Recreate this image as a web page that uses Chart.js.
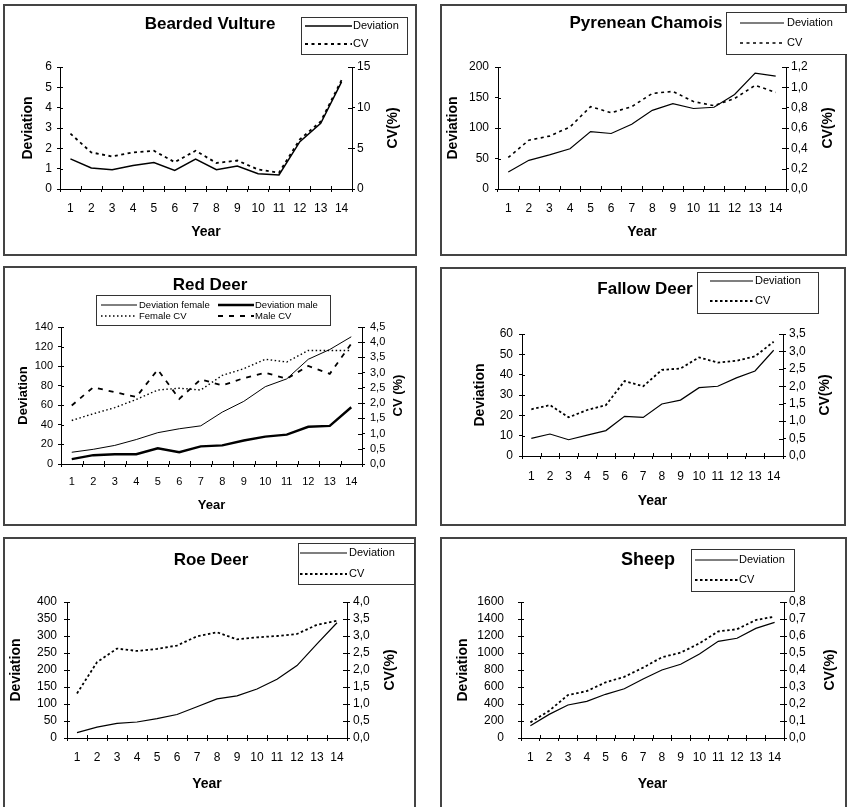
<!DOCTYPE html>
<html>
<head>
<meta charset="utf-8">
<script src="https://cdn.jsdelivr.net/npm/chart.js@4.4.1/dist/chart.umd.min.js"></script>
<style>
  body { margin: 0; background: #fff; width: 847px; height: 807px; overflow: hidden; position: relative; }
  .frame { position: absolute; border: 2px solid #444; box-sizing: border-box; }
  canvas { position: absolute; }
</style>
</head>
<body>
<script>
// ---- data ----
const years = ["1", "2", "3", "4", "5", "6", "7", "8", "9", "10", "11", "12", "13", "14"];

const vultureDev = [1.48, 1.03, 0.95, 1.16, 1.3, 0.91, 1.47, 0.95, 1.13, 0.75, 0.69, 2.33, 3.23, 5.27];
const vultureCV = [6.8, 4.5, 4.0, 4.5, 4.7, 3.3, 4.7, 3.2, 3.5, 2.4, 2.0, 6.1, 8.3, 13.4];

const chamoisDev = [28, 47, 56, 66, 94, 91, 106, 129, 140, 132, 134, 155, 190, 185];
const chamoisCV = [0.31, 0.48, 0.52, 0.61, 0.81, 0.75, 0.81, 0.94, 0.96, 0.86, 0.82, 0.89, 1.02, 0.95];

const redFemaleDev = [12, 15, 19, 25, 32, 36, 39, 53, 64, 79, 87, 107, 117, 130];
const redMaleDev = [5, 9, 10, 10, 16, 12, 18, 19, 24, 28, 30, 38, 39, 58];
const redFemaleCV = [1.43, 1.65, 1.85, 2.12, 2.43, 2.49, 2.43, 2.91, 3.13, 3.44, 3.35, 3.73, 3.73, 3.73];
const redMaleCV = [1.92, 2.52, 2.36, 2.2, 3.1, 2.14, 2.78, 2.58, 2.82, 3.0, 2.8, 3.22, 2.96, 3.95];

const fallowDev = [8.7, 10.8, 8.0, 10.3, 12.5, 19.5, 19, 25.6, 27.5, 33.6, 34.3, 38.4, 41.8, 52];
const fallowCV = [1.34, 1.46, 1.11, 1.32, 1.46, 2.15, 2.0, 2.47, 2.51, 2.83, 2.68, 2.73, 2.86, 3.28];

const roeDev = [16, 32, 43, 47, 57, 69, 92, 115, 124, 144, 173, 213, 277, 339];
const roeCV = [1.31, 2.23, 2.63, 2.56, 2.62, 2.72, 2.99, 3.11, 2.9, 2.96, 3.0, 3.06, 3.33, 3.45];

const sheepDev = [145, 278, 388, 431, 514, 580, 694, 800, 867, 988, 1137, 1173, 1290, 1360];
const sheepCV = [0.092, 0.16, 0.253, 0.276, 0.327, 0.36, 0.414, 0.475, 0.502, 0.557, 0.627, 0.64, 0.694, 0.714];

Chart.defaults.font.family = "'Liberation Sans', Arial, Helvetica, sans-serif";
Chart.defaults.color = "#000";

const comma = (d) => (v) => v.toFixed(d).replace(".", ",");

// solid / dotted line styles
const solid = (label, data, w) => ({ label, data, yAxisID: "y", borderColor: "#000", borderWidth: w || 1.2, pointRadius: 0, tension: 0, fill: false });
const dotted = (label, data, dash, w, axis) => ({ label, data, yAxisID: axis || "y2", borderColor: "#000", borderWidth: w || 1.8, borderDash: dash || [3, 3], pointRadius: 0, tension: 0, fill: false });

// inner tick halves, chart title, right axis title and the boxed legend
const decor = {
  id: "decor",
  afterDraw(chart, args, o) {
    const { ctx, chartArea } = chart;
    const x = chart.scales.x, y = chart.scales.y, y2 = chart.scales.y2;
    ctx.save();
    ctx.strokeStyle = "#000";
    ctx.lineWidth = 1;
    ctx.beginPath();
    const n = x.ticks.length;
    for (let i = 0; i <= n; i++) {
      const px = Math.round(x.left + i * x.width / n) + 0.5;
      ctx.moveTo(px, x.top);
      ctx.lineTo(px, x.top - 3);
    }
    y.ticks.forEach((t, i) => {
      const py = Math.round(y.getPixelForTick(i)) + 0.5;
      ctx.moveTo(y.right, py);
      ctx.lineTo(y.right + 3, py);
    });
    y2.ticks.forEach((t, i) => {
      const py = Math.round(y2.getPixelForTick(i)) + 0.5;
      ctx.moveTo(y2.left, py);
      ctx.lineTo(y2.left - 4, py);
    });
    ctx.stroke();

    ctx.fillStyle = "#000";
    ctx.textAlign = "center";
    ctx.textBaseline = "middle";
    ctx.font = "bold " + o.titleSize + "px " + Chart.defaults.font.family;
    ctx.fillText(o.title, o.titleX, o.titleY);

    ctx.save();
    ctx.font = "bold " + o.axisSize + "px " + Chart.defaults.font.family;
    ctx.translate(o.y2TitleX, (chartArea.top + chartArea.bottom) / 2);
    ctx.rotate(-Math.PI / 2);
    ctx.fillText(o.y2Title, 0, 0);
    ctx.restore();

    const L = o.legend;
    ctx.fillStyle = "#fff";
    ctx.fillRect(L.x, L.y, L.w, L.h);
    ctx.strokeStyle = "#333";
    ctx.strokeRect(Math.round(L.x) + 0.5, Math.round(L.y) + 0.5, Math.round(L.w), Math.round(L.h));
    ctx.font = L.size + "px " + Chart.defaults.font.family;
    ctx.textAlign = "left";
    ctx.fillStyle = "#000";
    L.items.forEach((it) => {
      const ds = chart.data.datasets[it.ds];
      ctx.save();
      ctx.strokeStyle = "#000";
      ctx.lineWidth = ds.borderWidth;
      ctx.setLineDash(ds.borderDash || []);
      ctx.beginPath();
      ctx.moveTo(it.x1, it.y);
      ctx.lineTo(it.x2, it.y);
      ctx.stroke();
      ctx.restore();
      ctx.fillText(ds.label, it.tx, it.y);
    });
    ctx.restore();
  }
};

function tickGrid() {
  return { display: true, drawOnChartArea: false, drawTicks: true, tickLength: 3, color: "#000", lineWidth: 1 };
}

function panel(p) {
  const b = p.box;
  const frame = document.createElement("div");
  frame.className = "frame";
  Object.assign(frame.style, { left: b.x + "px", top: b.y + "px", width: b.w + "px", height: b.h + "px" });
  document.body.appendChild(frame);
  const cv = document.createElement("canvas");
  cv.width = b.w;
  cv.height = b.h;
  Object.assign(cv.style, { left: b.x + "px", top: b.y + "px" });
  document.body.appendChild(cv);

  const a = p.plot;
  const leftW = a.l - b.x, rightW = b.x + b.w - a.r, bottomH = b.y + b.h - a.b;
  const axisFont = { size: p.axisSize, weight: "bold" };
  const tickFont = { size: p.tickSize };
  const rel = (v, o) => v - o;
  const legend = {
    x: rel(p.legend.x, b.x), y: rel(p.legend.y, b.y), w: p.legend.w, h: p.legend.h, size: p.legend.size,
    items: p.legend.items.map((it) => ({ ds: it.ds, x1: rel(it.x1, b.x), x2: rel(it.x2, b.x), tx: rel(it.tx, b.x), y: rel(it.y, b.y) }))
  };

  new Chart(cv, {
    type: "line",
    data: { labels: years, datasets: p.datasets },
    options: {
      responsive: false,
      animation: false,
      layout: { padding: { top: a.t - b.y, left: 0, right: 0, bottom: 0 } },
      plugins: {
        legend: { display: false },
        tooltip: { enabled: false },
        decor: {
          title: p.title, titleX: rel(p.titleX, b.x), titleY: rel(p.titleY, b.y), titleSize: p.titleSize,
          y2Title: p.y2Title, y2TitleX: rel(p.y2TitleX, b.x), axisSize: p.axisSize, legend
        }
      },
      scales: {
        x: {
          offset: true,
          grid: Object.assign(tickGrid(), { offset: true }),
          border: { display: true, color: "#000", width: 1 },
          ticks: { font: tickFont, padding: p.xPad, maxRotation: 0, autoSkip: false },
          title: { display: true, text: "Year", font: axisFont, padding: { top: 0, bottom: b.y + b.h - p.xTitleY - p.axisSize * 0.6 } },
          afterFit: (s) => { s.height = bottomH; }
        },
        y: {
          position: "left",
          min: 0, max: p.yMax,
          grid: tickGrid(),
          border: { display: true, color: "#000", width: 1 },
          ticks: { stepSize: p.yStep, font: tickFont, padding: p.yPad, autoSkip: false, callback: (v) => String(v) },
          title: { display: true, text: "Deviation", font: axisFont, padding: { top: p.yTitleX - b.x - p.axisSize * 0.6, bottom: 0 } },
          afterFit: (s) => { s.width = leftW; }
        },
        y2: {
          position: "right",
          min: 0, max: p.y2Max,
          grid: tickGrid(),
          border: { display: true, color: "#000", width: 1 },
          ticks: { stepSize: p.y2Step, font: tickFont, padding: p.y2Pad, autoSkip: false, callback: comma(p.y2Dec) },
          afterFit: (s) => { s.width = rightW; }
        }
      }
    },
    plugins: [decor]
  });
}

const legend2 = (x, y, w, h, x1, x2, tx, r1, r2) => ({
  x, y, w, h, size: 11,
  items: [{ ds: 0, x1, x2, tx, y: r1 }, { ds: 1, x1, x2, tx, y: r2 }]
});

panel({
  box: { x: 3, y: 4, w: 414, h: 252 },
  plot: { l: 60, t: 67, r: 352, b: 189 },
  title: "Bearded Vulture", titleX: 210, titleY: 24, titleSize: 17,
  y2Title: "CV(%)", y2TitleX: 393, yTitleX: 28, xTitleY: 232,
  axisSize: 14, tickSize: 12, xPad: 9, yPad: 5, y2Pad: 2,
  yMax: 6, yStep: 1, y2Max: 15, y2Step: 5, y2Dec: 0,
  legend: legend2(301, 17, 106, 37, 305, 352, 353, 26, 44),
  datasets: [solid("Deviation", vultureDev, 1.5), dotted("CV", vultureCV, [3, 3.5], 1.8)]
});

panel({
  box: { x: 440, y: 4, w: 407, h: 252 },
  plot: { l: 498, t: 67, r: 786, b: 189 },
  title: "Pyrenean Chamois", titleX: 646, titleY: 23, titleSize: 17,
  y2Title: "CV(%)", y2TitleX: 828, yTitleX: 453, xTitleY: 232,
  axisSize: 14, tickSize: 12, xPad: 9, yPad: 6, y2Pad: 2,
  yMax: 200, yStep: 50, y2Max: 1.2, y2Step: 0.2, y2Dec: 1,
  legend: legend2(726, 12, 124, 42, 740, 784, 787, 23, 43),
  datasets: [solid("Deviation", chamoisDev, 1.2), dotted("CV", chamoisCV, [3, 3.5], 1.6)]
});

panel({
  box: { x: 3, y: 266, w: 414, h: 260 },
  plot: { l: 61, t: 327, r: 362, b: 464 },
  title: "Red Deer", titleX: 210, titleY: 285, titleSize: 17,
  y2Title: "CV (%)", y2TitleX: 398, yTitleX: 23, xTitleY: 505,
  axisSize: 13, tickSize: 11, xPad: 8, yPad: 5, y2Pad: 5,
  yMax: 140, yStep: 20, y2Max: 4.5, y2Step: 0.5, y2Dec: 1,
  legend: {
    x: 96, y: 295, w: 234, h: 30, size: 9.5,
    items: [
      { ds: 0, x1: 101, x2: 137, tx: 139, y: 305 },
      { ds: 1, x1: 218, x2: 254, tx: 255, y: 305 },
      { ds: 2, x1: 101, x2: 137, tx: 139, y: 316 },
      { ds: 3, x1: 218, x2: 254, tx: 255, y: 316 }
    ]
  },
  datasets: [
    solid("Deviation female", redFemaleDev, 1),
    solid("Deviation male", redMaleDev, 2.4),
    dotted("Female CV", redFemaleCV, [1.5, 2.5], 1.4),
    dotted("Male CV", redMaleCV, [5, 6], 1.8)
  ]
});

panel({
  box: { x: 440, y: 267, w: 406, h: 259 },
  plot: { l: 522, t: 334, r: 783, b: 456 },
  title: "Fallow Deer", titleX: 645, titleY: 289, titleSize: 17,
  y2Title: "CV(%)", y2TitleX: 825, yTitleX: 480, xTitleY: 501,
  axisSize: 14, tickSize: 12, xPad: 10, yPad: 6, y2Pad: 3,
  yMax: 60, yStep: 10, y2Max: 3.5, y2Step: 0.5, y2Dec: 1,
  legend: legend2(697, 272, 121, 41, 710, 753, 755, 281, 301),
  datasets: [solid("Deviation", fallowDev, 1.2), dotted("CV", fallowCV, [2.5, 2.5], 1.8)]
});

panel({
  box: { x: 3, y: 537, w: 413, h: 280 },
  plot: { l: 67, t: 602, r: 347, b: 738 },
  title: "Roe Deer", titleX: 211, titleY: 560, titleSize: 17,
  y2Title: "CV(%)", y2TitleX: 390, yTitleX: 16, xTitleY: 784,
  axisSize: 14, tickSize: 12, xPad: 9, yPad: 7, y2Pad: 3,
  yMax: 400, yStep: 50, y2Max: 4, y2Step: 0.5, y2Dec: 1,
  legend: legend2(298, 543, 116, 41, 300, 347, 349, 553, 574),
  datasets: [solid("Deviation", roeDev, 1.2), dotted("CV", roeCV, [2.5, 2.5], 1.8)]
});

panel({
  box: { x: 440, y: 537, w: 407, h: 280 },
  plot: { l: 521, t: 602, r: 784, b: 738 },
  title: "Sheep", titleX: 648, titleY: 560, titleSize: 18,
  y2Title: "CV(%)", y2TitleX: 830, yTitleX: 463, xTitleY: 784,
  axisSize: 14, tickSize: 12, xPad: 9, yPad: 14, y2Pad: 2,
  yMax: 1600, yStep: 200, y2Max: 0.8, y2Step: 0.1, y2Dec: 1,
  legend: legend2(691, 549, 103, 42, 695, 738, 739, 560, 580),
  datasets: [solid("Deviation", sheepDev, 1.2), dotted("CV", sheepCV, [2.5, 2.5], 1.8)]
});
</script>
</body>
</html>
